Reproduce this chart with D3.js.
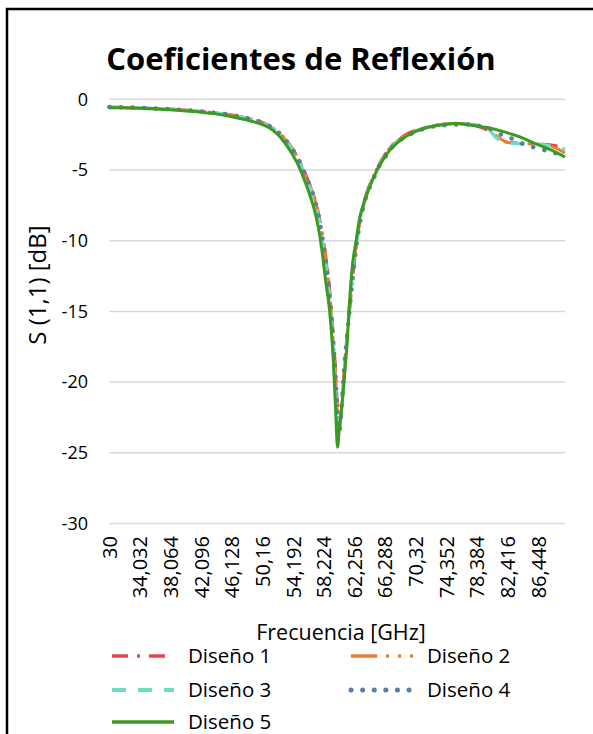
<!DOCTYPE html>
<html>
<head>
<meta charset="utf-8">
<script src="https://cdn.jsdelivr.net/npm/d3@7"></script>
<style>
  body { margin: 0; background: #fff; }
  svg { display: block; }
</style>
</head>
<body>
<svg width="593" height="734"></svg>
<script>
// frequency grid (GHz) shared by all five designs
var freqs = [30, 32, 34, 36, 38, 40, 42, 44, 46, 48, 50, 51, 52, 53, 54, 55, 55.5, 56, 56.5, 57,
  57.5, 58, 58.5, 59, 59.5, 59.8, 60.05, 60.3, 60.6, 61, 61.3, 61.7, 62, 62.5, 63, 63.5,
  64, 64.5, 65, 65.5, 66, 67, 68, 69, 70, 72, 74, 75.5, 77, 78, 79, 80, 81, 82, 83, 84,
  85, 86, 87, 88, 89, 90];

var diseno1 = [-0.57, -0.58, -0.61, -0.65, -0.71, -0.78, -0.86, -0.97, -1.11, -1.33, -1.60, -1.84, -2.18, -2.70, -3.40, -4.28, -4.88, -5.5, -6.15, -6.9,
  -7.95, -9.4, -11.1, -13.4, -16.8, -19.2, -21.8, -23.0, -21.8, -18.8, -16.9, -14.6, -12.9, -10.5, -8.6, -7.4,
  -6.5, -5.8, -5.2, -4.62, -4.15, -3.38, -2.88, -2.5, -2.25, -1.93, -1.77, -1.73, -1.76, -1.84, -2.0, -2.25, -2.7, -3.0, -3.08, -3.12,
  -3.14, -3.15, -3.18, -3.22, -3.3, -3.4];

var diseno2 = [-0.56, -0.58, -0.60, -0.64, -0.69, -0.76, -0.85, -0.95, -1.10, -1.31, -1.60, -1.85, -2.20, -2.72, -3.42, -4.30, -4.90, -5.55, -6.2, -6.95,
  -8.0, -9.5, -11.2, -13.6, -17.0, -19.5, -22.2, -23.3, -21.7, -18.6, -16.7, -14.3, -12.6, -10.3, -8.5, -7.3,
  -6.4, -5.75, -5.15, -4.6, -4.15, -3.4, -2.9, -2.55, -2.3, -1.95, -1.76, -1.70, -1.72, -1.78, -1.88, -2.05, -2.6, -2.95, -3.08, -3.12,
  -3.14, -3.15, -3.2, -3.3, -3.5, -3.8];

var diseno3 = [-0.56, -0.58, -0.61, -0.65, -0.70, -0.77, -0.86, -0.97, -1.12, -1.34, -1.64, -1.89, -2.25, -2.80, -3.50, -4.42, -5.02, -5.7, -6.4, -7.2,
  -8.3, -9.9, -11.8, -14.2, -17.8, -20.8, -23.6, -23.0, -21.4, -18.9, -16.9, -14.0, -12.2, -10.2, -8.5, -7.4,
  -6.5, -5.85, -5.25, -4.7, -4.25, -3.5, -2.98, -2.6, -2.33, -1.96, -1.78, -1.72, -1.74, -1.80, -1.92, -2.15, -2.75, -3.0, -3.1, -3.15,
  -3.15, -3.15, -3.2, -3.3, -3.42, -3.55];

var diseno4 = [-0.55, -0.57, -0.60, -0.64, -0.70, -0.77, -0.85, -0.96, -1.10, -1.32, -1.62, -1.87, -2.22, -2.75, -3.45, -4.35, -4.95, -5.6, -6.25, -7.0,
  -8.1, -9.6, -11.3, -13.8, -17.3, -19.7, -22.4, -23.5, -21.6, -18.5, -16.8, -14.5, -12.9, -10.5, -8.7, -7.5,
  -6.6, -5.95, -5.35, -4.75, -4.35, -3.55, -3.0, -2.65, -2.38, -2.0, -1.84, -1.79, -1.78, -1.83, -1.92, -2.05, -2.35, -2.6, -2.78, -3.05,
  -3.25, -3.4, -3.55, -3.7, -3.85, -4.0];

var diseno5 = [-0.59, -0.61, -0.64, -0.68, -0.74, -0.82, -0.91, -1.03, -1.21, -1.45, -1.76, -2.0, -2.4, -3.0, -3.8, -4.8, -5.45, -6.15, -6.95, -7.8,
  -9.0, -10.7, -12.9, -14.9, -18.5, -22.0, -24.6, -23.2, -21.8, -19.4, -17.3, -13.8, -11.8, -10.0, -8.3, -7.4,
  -6.6, -5.9, -5.3, -4.75, -4.3, -3.55, -3.05, -2.65, -2.35, -1.98, -1.78, -1.72, -1.78, -1.86, -1.94, -2.03, -2.15, -2.3, -2.47, -2.65,
  -2.87, -3.12, -3.33, -3.55, -3.8, -4.08];

var seriesNames = ["Diseño 1", "Diseño 2", "Diseño 3", "Diseño 4", "Diseño 5"];
var xTickLabels = ["30", "34,032", "38,064", "42,096", "46,128", "50,16", "54,192", "58,224",
  "62,256", "66,288", "70,32", "74,352", "78,384", "82,416", "86,448"];
var yTicks = [0, -5, -10, -15, -20, -25, -30];

var styles = [
  {color: "#E5474C", width: 3, dash: "16,9,3,9", cap: "butt"},
  {color: "#ED7D31", width: 3, dash: "26,9,3,9,3,9", cap: "butt"},
  {color: "#6FDCC6", width: 3.5, dash: "14,12", cap: "butt"},
  {color: "#5A7EA7", width: 4.5, dash: "0.1,11.5", cap: "round"},
  {color: "#3C9A22", width: 3, dash: null, cap: "butt"}
];

var svg = d3.select("svg");
var font = "'Open Sans', sans-serif";

// chart frame
svg.append("rect")
  .attr("x", 7).attr("y", 9)
  .attr("width", 620).attr("height", 760)
  .style("fill", "#fff").style("stroke", "#000").style("stroke-width", 2.5);

var x = d3.scaleLinear().domain([30, 90]).range([109.3, 565]);
var y = d3.scaleLinear().domain([-30, 0]).range([523.5, 99.3]);

// gridlines
svg.append("g").selectAll("line").data(yTicks).enter().append("line")
  .attr("x1", x(30)).attr("x2", x(90))
  .attr("y1", function(d){ return y(d); })
  .attr("y2", function(d){ return y(d); })
  .style("stroke", "#D9D9D9").style("stroke-width", 1.5);

// y axis labels
var yAxis = d3.axisLeft(y).tickValues(yTicks).tickSize(0).tickPadding(0)
  .tickFormat(function(d){ return d3.format("d")(d).replace("−", "-"); });
svg.append("g").attr("transform", "translate(88,0)").call(yAxis)
  .call(function(g){ g.select(".domain").remove(); })
  .selectAll("text")
  .style("font-family", font).style("font-size", "18px").style("fill", "#000");

// x axis labels, rotated
var xTickValues = xTickLabels.map(function(s){ return +s.replace(",", "."); });
var xAxis = d3.axisBottom(x).tickValues(xTickValues).tickSize(0)
  .tickFormat(function(d, i){ return xTickLabels[i]; });
svg.append("g").attr("transform", "translate(0,536)").call(xAxis)
  .call(function(g){ g.select(".domain").remove(); })
  .selectAll("text")
  .attr("transform", "rotate(-90)")
  .attr("x", 0).attr("y", 0).attr("dy", "0.35em")
  .style("text-anchor", "end")
  .style("font-family", font).style("font-size", "20px").style("fill", "#000");

// series lines
var line = d3.line()
  .x(function(d){ return x(d[0]); })
  .y(function(d){ return y(d[1]); })
  .curve(d3.curveMonotoneX);

var allSeries = [diseno1, diseno2, diseno3, diseno4, diseno5];
allSeries.forEach(function(vals, i){
  var pts = freqs.map(function(f, j){ return [f, vals[j]]; });
  svg.append("path")
    .datum(pts)
    .attr("d", line)
    .style("fill", "none")
    .style("stroke", styles[i].color)
    .style("stroke-width", styles[i].width)
    .style("stroke-dasharray", styles[i].dash)
    .style("stroke-linecap", styles[i].cap)
    .style("stroke-linejoin", "round");
});

// title
svg.append("text")
  .attr("x", 301).attr("y", 70)
  .style("text-anchor", "middle")
  .style("font-family", font).style("font-weight", "bold").style("font-size", "31px")
  .text("Coeficientes de Reflexión");

// axis titles
svg.append("text")
  .attr("transform", "translate(46,285) rotate(-90)")
  .style("text-anchor", "middle")
  .style("font-family", font).style("font-size", "24px")
  .text("S (1,1) [dB]");

svg.append("text")
  .attr("x", 341).attr("y", 640)
  .style("text-anchor", "middle")
  .style("font-family", font).style("font-size", "21.5px")
  .text("Frecuencia [GHz]");

// legend
var legendPos = [[112, 656], [351, 656], [112, 690], [351, 690], [112, 722]];
var legend = svg.append("g");
seriesNames.forEach(function(name, i){
  var p = legendPos[i];
  legend.append("line")
    .attr("x1", p[0]).attr("x2", p[0] + 62)
    .attr("y1", p[1]).attr("y2", p[1])
    .style("stroke", styles[i].color)
    .style("stroke-width", styles[i].width + 0.5)
    .style("stroke-dasharray", styles[i].dash)
    .style("stroke-linecap", styles[i].cap);
  legend.append("text")
    .attr("x", p[0] + 76).attr("y", p[1]).attr("dy", "0.35em")
    .style("font-family", font).style("font-size", "20.5px")
    .text(name);
});
</script>
</body>
</html>
